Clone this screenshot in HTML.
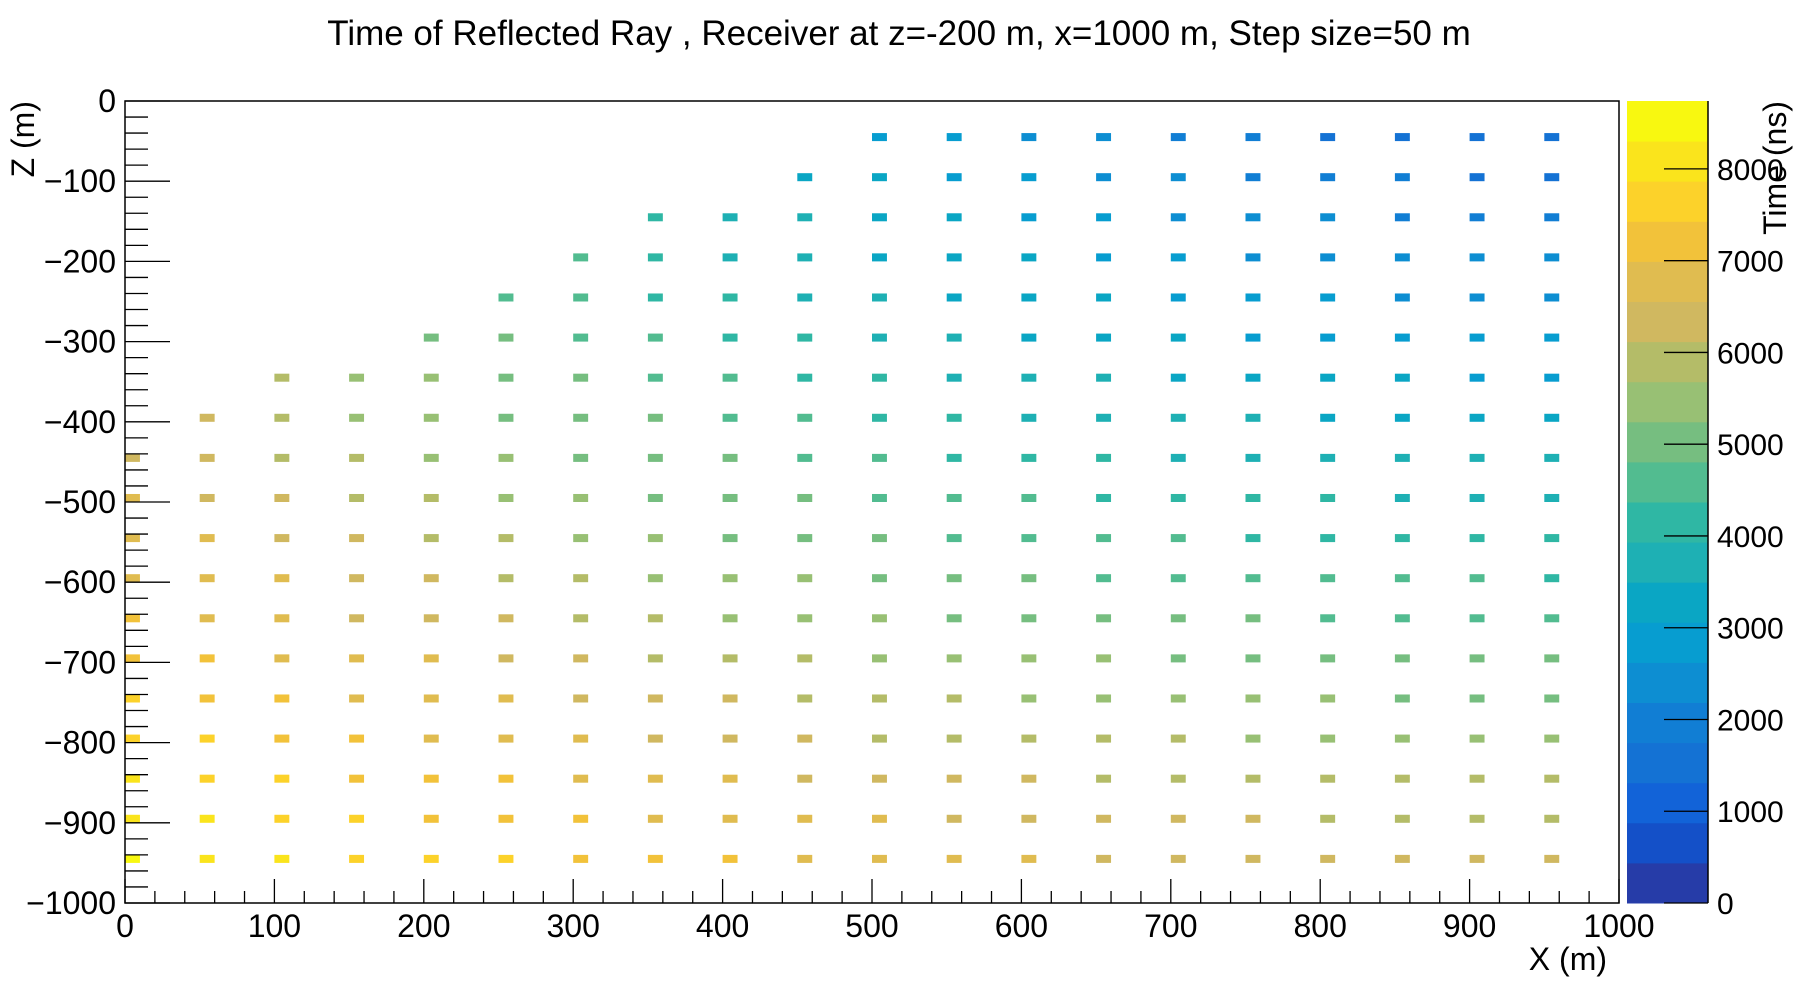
<!DOCTYPE html>
<html><head><meta charset="utf-8"><title>Time of Reflected Ray</title>
<style>
html,body{margin:0;padding:0;background:#fff;}
svg{display:block;font-family:"Liberation Sans",Arial,sans-serif;}
</style></head>
<body>
<svg id="chart" width="1798" height="1004" viewBox="0 0 1798 1004" xmlns="http://www.w3.org/2000/svg">
<rect width="1798" height="1004" fill="#fff"/>
<text x="899" y="45" font-size="35" text-anchor="middle" fill="#000">Time of Reflected Ray , Receiver at z=-200 m, x=1000 m, Step size=50 m</text>
<g id="cells"></g>
<rect x="125" y="101" width="1494" height="802" fill="none" stroke="#000" stroke-width="1.5"/>
<g id="axes"></g>
<g id="cbar"></g>
<text x="1607" y="970" font-size="32" text-anchor="end">X (m)</text>
<text transform="translate(34,101) rotate(-90)" font-size="32" text-anchor="end">Z (m)</text>
<text transform="translate(1786,101) rotate(-90)" font-size="32" text-anchor="end">Time (ns)</text>
</svg>
<script>
const zRows = [-50,-100,-150,-200,-250,-300,-350,-400,-450,-500,-550,-600,-650,-700,-750,-800,-850,-900,-950];
const rowStartX = [500,450,350,300,250,200,100,50,0,0,0,0,0,0,0,0,0,0,0];
const timesRow1 = [3047,2806,2571,2344,2128,1927,1745,1589,1468,1389];
const timesRow2 = [3414,3178,2948,2725,2512,2312,2128,1965,1828,1723,1658];
const timesRow3 = [4023,3786,3553,3326,3107,2897,2698,2512,2344,2197,2075,1984,1927];
const timesRow4 = [4394,4160,3930,3706,3490,3281,3083,2897,2725,2571,2437,2328,2247,2197];
const timesRow5 = [4767,4535,4309,4088,3873,3666,3468,3281,3107,2948,2806,2684,2585,2512,2468];
const timesRow6 = [5142,4913,4688,4469,4257,4051,3854,3666,3490,3326,3178,3047,2935,2845,2779,2739];
const timesRow7 = [5749,5518,5291,5069,4852,4641,4436,4239,4051,3873,3706,3553,3414,3293,3189,3107,3047,3010];
const timesRow8 = [6124,5895,5670,5450,5235,5025,4821,4624,4436,4257,4088,3930,3786,3656,3543,3447,3371,3315,3281];
const timesRow9 = [6500,6273,6051,5832,5618,5409,5206,5010,4821,4641,4469,4309,4160,4023,3902,3795,3706,3636,3584,3553];
const timesRow10 = [6653,6431,6214,6001,5793,5591,5395,5206,5025,4852,4688,4535,4394,4265,4151,4051,3968,3902,3854,3825];
const timesRow11 = [6813,6597,6385,6178,5976,5781,5591,5409,5235,5069,4913,4767,4633,4511,4402,4309,4230,4169,4124,4097];
const timesRow12 = [6979,6769,6563,6362,6166,5976,5793,5618,5450,5291,5142,5002,4875,4759,4656,4568,4494,4436,4394,4369];
const timesRow13 = [7153,6948,6747,6551,6362,6178,6001,5832,5670,5518,5375,5242,5120,5010,4913,4829,4759,4704,4665,4641];
const timesRow14 = [7332,7132,6937,6747,6563,6385,6214,6051,5895,5749,5611,5484,5368,5263,5170,5091,5025,4973,4935,4913];
const timesRow15 = [7517,7322,7132,6948,6769,6597,6431,6273,6124,5983,5851,5729,5618,5518,5429,5354,5291,5242,5206,5185];
const timesRow16 = [7708,7517,7332,7153,6979,6813,6653,6500,6356,6220,6093,5976,5870,5774,5690,5618,5558,5511,5477,5457];
const timesRow17 = [7903,7717,7537,7362,7194,7032,6877,6730,6591,6460,6338,6226,6124,6032,5951,5883,5825,5781,5749,5729];
const timesRow18 = [8102,7921,7746,7576,7413,7256,7106,6963,6829,6702,6585,6477,6379,6291,6214,6148,6093,6051,6020,6001];
const timesRow19 = [8306,8129,7959,7794,7635,7483,7337,7199,7069,6948,6834,6730,6636,6551,6477,6414,6362,6320,6291,6273];
const xTickLabels = [0,100,200,300,400,500,600,700,800,900,1000];
const yTickLabels = [0,-100,-200,-300,-400,-500,-600,-700,-800,-900,-1000];
const cbarTickLabels = [0,1000,2000,3000,4000,5000,6000,7000,8000];
const cbarMax = 8740;
const palette = ["#263ca8","#1450c8","#1263d8","#1472d4","#117ed4","#0d8ed2","#079dd0","#0aa6c4","#1eb0b4","#2fb7a4","#52bc90","#76be80","#98c074","#b4bc68","#d0b860","#e0bc50","#f2c23a","#fcd22a","#fae41c","#f8f810"];

const allRows = [timesRow1,timesRow2,timesRow3,timesRow4,timesRow5,timesRow6,timesRow7,timesRow8,timesRow9,timesRow10,timesRow11,timesRow12,timesRow13,timesRow14,timesRow15,timesRow16,timesRow17,timesRow18,timesRow19];
const NS="http://www.w3.org/2000/svg";
const L=125,R=1619,T=101,B=903;
const xs=v=>L+(v/1000)*(R-L);
const ys=v=>T+(-v/1000)*(B-T);
const cys=v=>B-(v/cbarMax)*(B-T);
function colorOf(t){let i=Math.floor(t/cbarMax*palette.length);return palette[Math.max(0,Math.min(palette.length-1,i))];}
function mk(tag,attrs,parent){const e=document.createElementNS(NS,tag);for(const k in attrs)e.setAttribute(k,attrs[k]);parent.appendChild(e);return e;}

const cells=document.getElementById('cells');
allRows.forEach((row,ri)=>{
  const z=zRows[ri];
  row.forEach((t,ci)=>{
    const x=rowStartX[ri]+ci*50;
    const r=mk('rect',{x:xs(x),y:ys(z+10),width:xs(x+10)-xs(x),height:ys(z)-ys(z+10),fill:colorOf(t)},cells);
    
    
  });
});

const axes=document.getElementById('axes');
for(let v=0;v<=1000;v+=20){
  const major=v%100===0;
  const ln=mk('line',{x1:xs(v),x2:xs(v),y1:B,y2:B-(major?24:12),stroke:'#000','stroke-width':1.3},axes);
  
  
  const v2=-v;
  const ln2=mk('line',{x1:L,x2:L+(major?45:23),y1:ys(v2),y2:ys(v2),stroke:'#000','stroke-width':1.3},axes);
  
  
}
xTickLabels.forEach(v=>{
  const t=mk('text',{x:xs(v),y:937,'font-size':32,'text-anchor':'middle'},axes);
  t.textContent=String(v);
  
  
});
yTickLabels.forEach(v=>{
  const t=mk('text',{x:116,y:ys(v)+11,'font-size':32,'text-anchor':'end'},axes);
  t.textContent=v<0?'\u2212'+Math.abs(v):String(v);
  
  
});

const cbar=document.getElementById('cbar');
const bw=cbarMax/palette.length;
palette.forEach((c,i)=>{
  const y1=cys((i+1)*bw),y0=cys(i*bw);
  const r=mk('rect',{x:1627,y:y1,width:81,height:y0-y1+0.5,fill:c},cbar);
  
  
});
const ax=mk('line',{x1:1708,x2:1708,y1:T,y2:B,stroke:'#000','stroke-width':1.5},cbar);


cbarTickLabels.forEach(v=>{
  const ln=mk('line',{x1:1664,x2:1708,y1:cys(v),y2:cys(v),stroke:'#000','stroke-width':1.3},cbar);
  
  
  const t=mk('text',{x:1717,y:cys(v)+11,'font-size':30},cbar);
  t.textContent=String(v);
  
  
});
</script>
</body></html>
